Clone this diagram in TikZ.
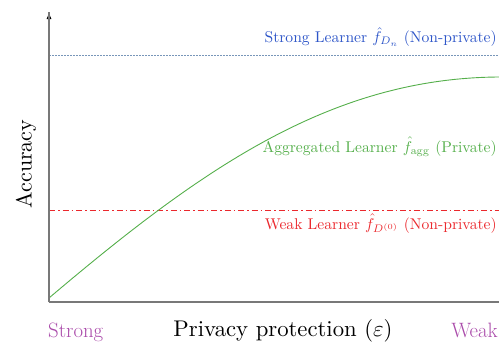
\documentclass[tikz,border=0pt]{standalone}
\usepackage{amsmath}
\usepackage{amssymb}
\usetikzlibrary{positioning}
\usetikzlibrary{arrows.meta}
\definecolor{cblue}{RGB}{45, 85, 200}
\definecolor{cline}{RGB}{120, 150, 185}
\definecolor{cred}{RGB}{235, 40, 45}
\definecolor{cgreen}{RGB}{85, 175, 75}
\definecolor{cpurple}{RGB}{170, 75, 170}
\definecolor{caxis}{RGB}{120, 120, 120}

\begin{document}
\begin{tikzpicture}[x=1pt, y=-1pt,
  axis/.style={line width=1.1pt, color=caxis},
  lbl/.style={inner sep=0pt, anchor=base east, scale=1.56, font=\fontsize{10}{12}\selectfont},
  big/.style={inner sep=0pt, anchor=base, font=\fontsize{10}{12}\selectfont}]
\useasboundingbox (0, 0) rectangle (499, 343);
\coordinate (o) at (49.0, 302.0);
\coordinate (ytop) at (49.0, 12.0);
\coordinate (xend) at (499.0, 302.0);
\coordinate (s1) at (49.0, 55.0);
\coordinate (s2) at (499.0, 55.0);
\coordinate (w1) at (49.0, 210.0);
\coordinate (w2) at (499.0, 210.0);
\coordinate (g1) at (49.0, 298.0);
\coordinate (g2) at (499.0, 77.0);
\draw [line width=0.5pt, color=cline, dash pattern=on 1.5pt off 1.5pt] (s1) to (s2);
\draw [line width=1pt, color=cred, dash pattern=on 6pt off 3pt on 1.5pt off 3pt] (w1) to (w2);
\draw [line width=0.9pt, color=cgreen] (g1) .. controls (200.0, 170.0) and (330.0, 78.0) .. (g2);
\draw [axis, -{Latex[length=7pt, width=5pt]}, color=black] (o) to (ytop);
\draw [axis] (o) to (ytop);
\draw [axis] (o) to (xend);
\node (strong) [lbl, text=cblue] at (497.0, 42.5) {Strong Learner $\hat{f}_{D_n}$ (Non-private)};
\node (agg) [lbl, text=cgreen] at (497.0, 152.0) {Aggregated Learner $\hat{f}_{\mathrm{agg}}$ (Private)};
\node (weak) [lbl, text=cred] at (497.0, 229.0) {Weak Learner $\hat{f}_{D^{(0)}}$ (Non-private)};
\node (acc) [big, rotate=90, scale=2.2] at (31.5, 164.0) {Accuracy};
\node (priv) [big, scale=2.27] at (283.0, 336.5) {Privacy protection ($\varepsilon$)};
\node (pstrong) [big, anchor=base west, text=cpurple, font=\fontsize{20.8}{24}\selectfont] at (48.0, 337.0) {Strong};
\node (pweak) [big, anchor=base east, text=cpurple, font=\fontsize{20.8}{24}\selectfont] at (498.0, 337.5) {Weak};
\end{tikzpicture}
\end{document}
